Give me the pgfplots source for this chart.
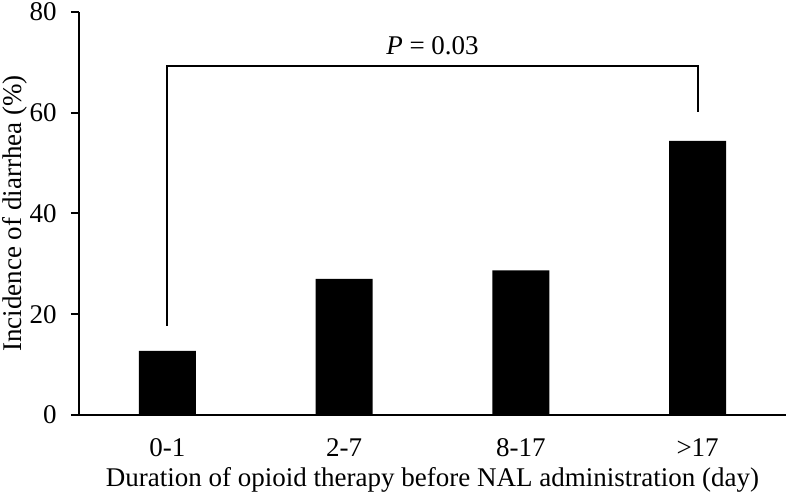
\documentclass[12pt,border=0pt]{standalone}
\usepackage{fontspec}
\setmainfont{Liberation Serif}
\usepackage{pgfplots}
\pgfplotsset{compat=1.18}
\begin{document}
\begin{tikzpicture}
\begin{axis}[
  scale only axis,
  width=353.5pt, height=201.5pt,
  xmin=-0.5, xmax=3.5,
  ymin=0, ymax=80,
  font=\fontsize{13.5}{16}\selectfont,
  axis x line=bottom, axis y line=left,
  axis line style={line width=1pt, -},
  xtick={0,1,2,3},
  xticklabels={0-1,2-7,8-17,>17},
  x tick style={draw=none},
  ytick={0,20,40,60,80},
  y tick style={line width=1pt, black},
  tick align=outside,
  major tick length=4pt,
  /pgf/number format/assume math mode=true,
  yticklabel style={xshift=-3pt},
  xticklabel style={yshift=-3.5pt},
  xlabel={Duration of opioid therapy before NAL administration (day)},
  ylabel={Incidence of diarrhea (\%)},
  xlabel style={yshift=2.5pt},
  ylabel style={inner sep=1pt, yshift=-4pt},
  clip=false,
]
\addplot[ybar, bar width=0.322, fill=black, draw=none] coordinates {(0,12.7) (1,27.0) (2,28.7) (3,54.4)};
\addplot[line width=1pt, black, sharp plot] coordinates {(0,17.7) (0,69.3) (3,69.3) (3,60.1)};
\node at (axis cs:1.5,73.3) {\textit{P} = 0.03};
\end{axis}
\pgfresetboundingbox
\path ([xshift=-39.5pt,yshift=-40pt]current axis.south west) rectangle ([xshift=0.5pt,yshift=6pt]current axis.north east);
\end{tikzpicture}
\end{document}
